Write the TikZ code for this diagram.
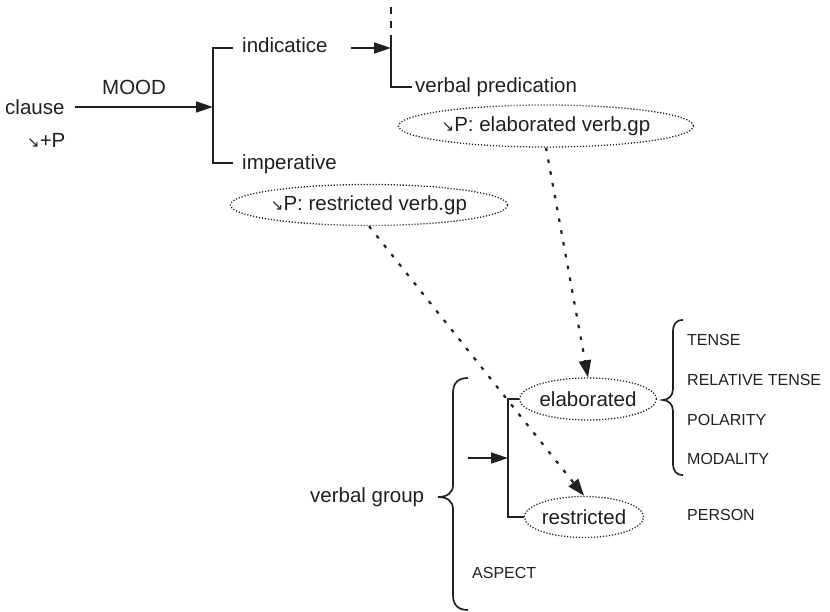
\documentclass[tikz,border=0pt]{standalone}
\usepackage{fontspec}
\setmainfont{Liberation Sans}
\newfontfamily\arrowfont{DejaVu Sans}
\usetikzlibrary{arrows.meta,shapes.geometric}
\definecolor{ink}{RGB}{35,31,32}
\newcommand{\smarr}{{\arrowfont\fontsize{15}{15}\selectfont ↘}}
\begin{document}
\begin{tikzpicture}[x=1pt,y=-1pt, color=ink,
  lbl/.style={font=\fontsize{20.5}{24}\selectfont, inner sep=0pt, anchor=base west},
  small/.style={font=\fontsize{16}{19}\selectfont, inner sep=0pt, anchor=base west},
  ell/.style={ellipse, draw, line width=1.3pt, dash pattern=on 1.2pt off 1.8pt, inner sep=0pt, font=\fontsize{20.5}{24}\selectfont},
  ln/.style={line width=1.7pt},
  arr/.style={ln, -{Triangle[length=17pt,width=11pt]}},
  darr/.style={line width=2.2pt, dash pattern=on 3.5pt off 8.5pt, -{Triangle[length=17pt,width=12pt]}}
]
\useasboundingbox (0,0) rectangle (830,612);

% labels
\node[lbl] (clause) at (5,115) {clause};
\node[lbl] (plus) at (27,148) {\smarr+P};
\node[lbl] (mood) at (102,95) {MOOD};
\node[lbl] (ind) at (242,53) {indicatice};
\node[lbl] (imp) at (242,170) {imperative};
\node[lbl] (vpred) at (415,93) {verbal predication};
\node[ell, minimum width=234pt, minimum height=42pt] (elvg) at (546,126) {\smarr P: elaborated verb.gp};
\node[ell, minimum width=235pt, minimum height=41pt] (rsvg) at (369,205) {\smarr P: restricted verb.gp};
\node[lbl] (vg) at (310,502) {verbal group};
\node[ell, minimum width=136pt, minimum height=42pt] (ela) at (588,399) {elaborated};
\node[ell, minimum width=118pt, minimum height=41pt] (res) at (584,517) {restricted};
\node[small] (tense) at (687,345) {TENSE};
\node[small] (rtense) at (687,385) {RELATIVE TENSE};
\node[small] (pol) at (687,425) {POLARITY};
\node[small] (mod) at (687,464) {MODALITY};
\node[small] (pers) at (687,520) {PERSON};
\node[small] (asp) at (472,578) {ASPECT};

% MOOD system
\coordinate (mtop) at (213,48);
\coordinate (mmid) at (213,107);
\coordinate (mbot) at (213,163);
\path (clause.east) ++(10pt,0) coordinate (cs);
\draw[arr] (cs |- mmid) -- (mmid);
\draw[ln] (233,48) -- (mtop) -- (mbot) -- (233,163);

% indicative -> verbal predication
\coordinate (pj) at (391,48);
\coordinate (ptop) at (391,7);
\coordinate (psol) at (391,41);
\coordinate (pbot) at (391,87);
\path (ind.east) ++(23pt,0) coordinate (is);
\draw[arr] (is |- pj) -- (pj);
\draw[ln, dash pattern=on 7pt off 7pt] (ptop) -- (psol);
\draw[ln] (psol) -- (pbot) -- (412,87);

% verbal group system
\coordinate (btop) at (508,399);
\coordinate (bmid) at (508,458);
\coordinate (bbot) at (508,517);
\coordinate (bin) at (468,458);
\draw[ln] (ela.west) -- (btop) -- (bbot) -- (res.west);
\draw[arr] (bin) -- (bmid);

% preselection arrows
\draw[darr] (elvg.south) -- (ela.north);
\draw[darr] (rsvg.south) -- (res.north);

% braces
\draw[ln] (468,378) .. controls (458,378) and (453,383) .. (453,393) -- (453,485)
  .. controls (453,493) and (447,497) .. (438,497)
  .. controls (447,497) and (453,501) .. (453,509) -- (453,595)
  .. controls (453,605) and (458,610) .. (468,610);
\draw[ln] (683,320) .. controls (676,320) and (673,324) .. (673,332) -- (673,389)
  .. controls (673,396) and (668,400) .. (663,400)
  .. controls (668,400) and (673,404) .. (673,411) -- (673,463)
  .. controls (673,471) and (676,475) .. (683,475);
\end{tikzpicture}
\end{document}
